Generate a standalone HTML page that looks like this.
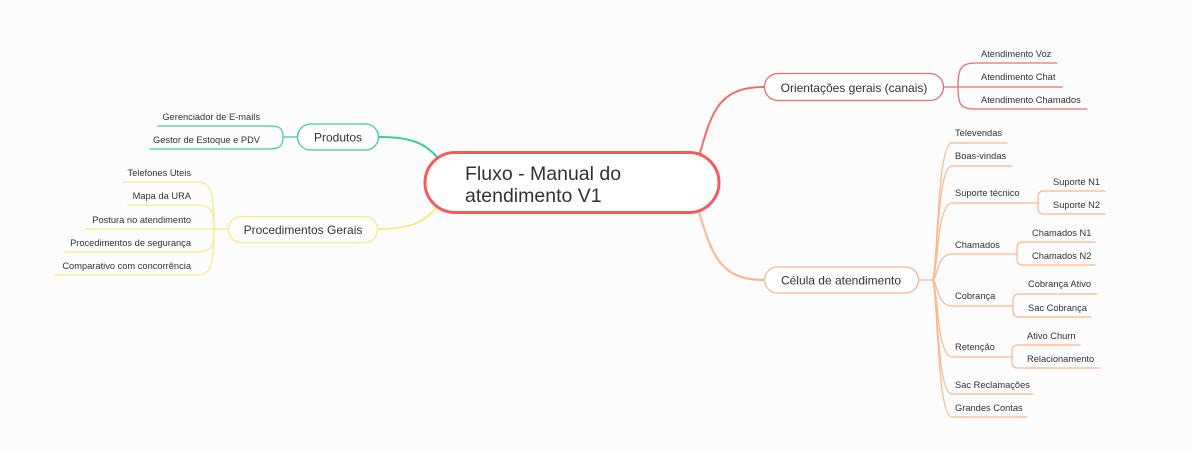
<!DOCTYPE html>
<html><head><meta charset="utf-8"><style>
html,body{margin:0;padding:0;background:#fcfcfc;}
svg{display:block;}
text{font-family:"Liberation Sans",sans-serif;fill:#333;}
.s{font-size:9.3px;}
.m{font-size:12px;}
</style></head><body>
<svg width="1192" height="453" viewBox="0 0 1192 453" xmlns="http://www.w3.org/2000/svg">
<rect width="1192" height="453" fill="#fcfcfc"/>
<g fill="none" stroke-linecap="round">
<path d="M700 153 C712 110 720 87 764 87" stroke="#f26b6b" stroke-width="2"/>
<path d="M699 212 C712 255 720 280 764 280" stroke="#fdb58a" stroke-width="2"/>
<path d="M379 137 C410 137 425 143 437 157" stroke="#3ccf9c" stroke-width="2"/>
<path d="M378 229 C410 229 425 222 437 207" stroke="#f7ea82" stroke-width="2"/>

<g stroke="#f26b6b" stroke-width="1.3">
<path d="M944 87 L958 87"/>
<path d="M958 87 C958 70 960 63 975 63 L1057 63"/>
<path d="M958 87 L1062 87"/>
<path d="M958 87 C958 104 960 109 975 109 L1087 109"/>
</g>

<g stroke="#fdb58a" stroke-width="1.2">
<path d="M919 280 L932 280"/>
<path d="M932 280 C938 280 936 143 952 143 L1007 143"/>
<path d="M932 280 C938 280 936 166 952 166 L1012 166"/>
<path d="M932 280 C938 280 936 203 952 203 L1038 203"/>
<path d="M932 280 C938 280 936 254 952 254 L1017 254"/>
<path d="M932 280 C938 280 936 306 952 306 L1013 306"/>
<path d="M932 280 C938 280 936 357 952 357 L1012 357"/>
<path d="M932 280 C938 280 936 394 952 394 L1033 394"/>
<path d="M932 280 C938 280 936 417 952 417 L1027 417"/>
<path d="M1038 203 L1038 197 Q1038 191 1044 191 L1105 191"/>
<path d="M1038 203 L1038 208 Q1038 214 1044 214 L1105 214"/>
<path d="M1017 254 L1017 248 Q1017 242 1023 242 L1095 242"/>
<path d="M1017 254 L1017 259 Q1017 265 1023 265 L1095 265"/>
<path d="M1013 306 L1013 300 Q1013 294 1019 294 L1097 294"/>
<path d="M1013 306 L1013 311 Q1013 317 1019 317 L1091 317"/>
<path d="M1012 357 L1012 351 Q1012 345 1018 345 L1080 345"/>
<path d="M1012 357 L1012 362 Q1012 368 1018 368 L1100 368"/>
</g>

<g stroke="#3ccf9c" stroke-width="1.2">
<path d="M297 137 L283 137"/>
<path d="M283 137 C283 128 280 126 268 126 L158 126"/>
<path d="M283 137 C283 146 280 149 268 149 L150 149"/>
</g>

<g stroke="#f7ea82" stroke-width="1.2">
<path d="M228 229 L214 229"/>
<path d="M214 229 C214 195 212 182 197 182 L123 182"/>
<path d="M214 229 C214 212 212 205 197 205 L128 205"/>
<path d="M214 229 L86 229"/>
<path d="M214 229 C214 246 212 252 197 252 L65 252"/>
<path d="M214 229 C214 262 212 275 197 275 L55 275"/>
</g>
</g>

<rect x="425" y="152.5" width="294" height="60" rx="30" fill="#fff" stroke="#f25c5c" stroke-width="3"/>
<text x="465" y="180" style="font-size:19.5px">Fluxo - Manual do</text>
<text x="465" y="202" style="font-size:19.5px">atendimento V1</text>

<rect x="764.5" y="73.5" width="179" height="27" rx="13.5" fill="#fff" stroke="#f26b6b" stroke-width="1.3"/>
<text class="m" x="854" y="92" text-anchor="middle">Orientações gerais (canais)</text>

<rect x="764.5" y="267" width="154" height="26" rx="13" fill="#fff" stroke="#fdb58a" stroke-width="1.3"/>
<text class="m" x="841" y="284.5" text-anchor="middle">Célula de atendimento</text>

<rect x="297.5" y="124" width="81" height="26" rx="13" fill="#fff" stroke="#3ccf9c" stroke-width="1.3"/>
<text class="m" x="338" y="141.5" text-anchor="middle">Produtos</text>

<rect x="228.5" y="216.5" width="149" height="26" rx="13" fill="#fff" stroke="#f7ea82" stroke-width="1.3"/>
<text class="m" x="303" y="234" text-anchor="middle">Procedimentos Gerais</text>

<g>
<text class="s" x="981" y="57">Atendimento Voz</text>
<text class="s" x="981" y="80">Atendimento Chat</text>
<text class="s" x="981" y="103">Atendimento Chamados</text>

<text class="s" x="955" y="136">Televendas</text>
<text class="s" x="955" y="159">Boas-vindas</text>
<text class="s" x="955" y="196">Suporte técnico</text>
<text class="s" x="955" y="248">Chamados</text>
<text class="s" x="955" y="299">Cobrança</text>
<text class="s" x="955" y="350">Retenção</text>
<text class="s" x="955" y="388">Sac Reclamações</text>
<text class="s" x="955" y="411">Grandes Contas</text>

<text class="s" x="1053" y="185">Suporte N1</text>
<text class="s" x="1053" y="208">Suporte N2</text>
<text class="s" x="1032" y="236">Chamados N1</text>
<text class="s" x="1032" y="259">Chamados N2</text>
<text class="s" x="1028" y="287">Cobrança Ativo</text>
<text class="s" x="1028" y="311">Sac Cobrança</text>
<text class="s" x="1027" y="339">Ativo Churn</text>
<text class="s" x="1027" y="362">Relacionamento</text>

<text class="s" x="260" y="120" text-anchor="end">Gerenciador de E-mails</text>
<text class="s" x="260" y="143" text-anchor="end">Gestor de Estoque e PDV</text>

<text class="s" x="191" y="176" text-anchor="end">Telefones Uteis</text>
<text class="s" x="191" y="199" text-anchor="end">Mapa da URA</text>
<text class="s" x="191" y="223" text-anchor="end">Postura no atendimento</text>
<text class="s" x="191" y="246" text-anchor="end">Procedimentos de segurança</text>
<text class="s" x="191" y="269" text-anchor="end">Comparativo com concorrência</text>
</g>
</svg>
</body></html>
